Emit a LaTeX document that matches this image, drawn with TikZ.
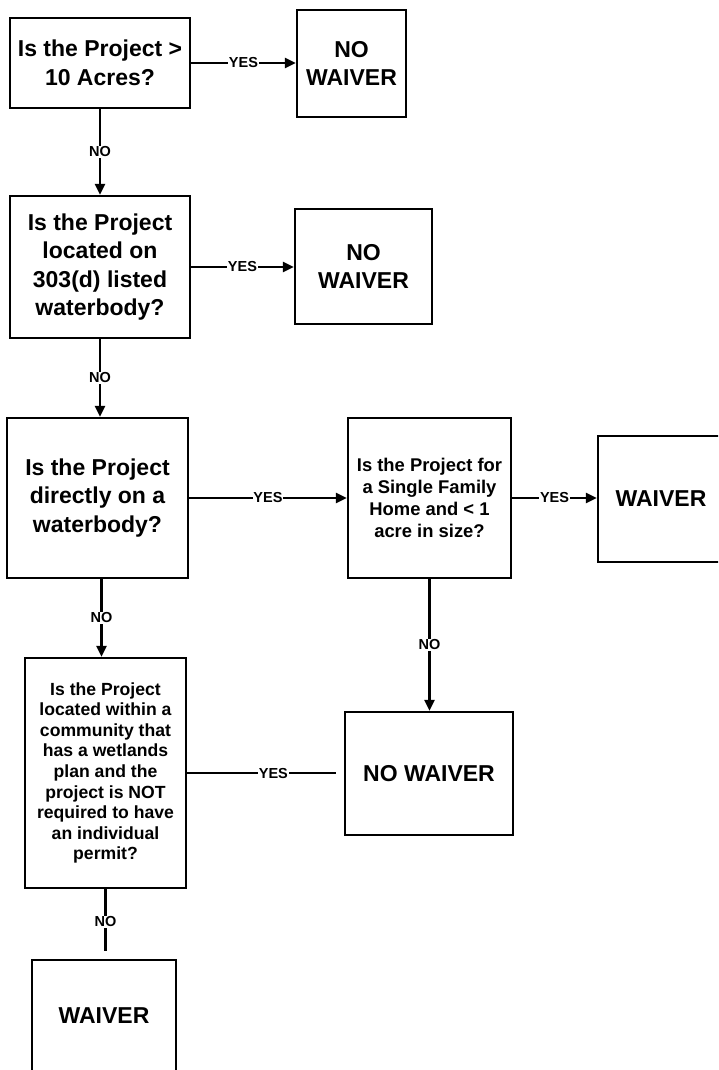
\documentclass[tikz,border=0pt]{standalone}
\usepackage{fontspec}
\setmainfont{Liberation Sans}
\usetikzlibrary{arrows.meta}
\tikzset{
  box/.style={draw, line width=2.2pt, inner sep=0pt, align=center, anchor=center},
  bigtxt/.style={font=\fontsize{23}{28.5}\selectfont\bfseries},
  midtxt/.style={font=\fontsize{18.4}{22}\selectfont\bfseries},
  smalltxt/.style={font=\fontsize{17.6}{20.6}\selectfont\bfseries},
  conn/.style={line width=2.2pt},
  arr/.style={conn, -{Triangle[length=11pt,width=10pt]}},
  lbl/.style={fill=white, inner sep=0.8pt, font=\fontsize{14.5}{15}\selectfont\bfseries}
}
\begin{document}
\begin{tikzpicture}[x=1pt,y=-1pt]
\useasboundingbox (0,0) rectangle (718,1070);
\clip (0,0) rectangle (718,1070);
\fill[white] (0,0) rectangle (718,1070);
% boxes
\node[box, bigtxt, minimum width=180pt, minimum height=90pt] (b1) at (100,63) {Is the Project >\\10 Acres?};
\node[box, bigtxt, minimum width=109pt, minimum height=107pt] (nw1) at (351.5,63.5) {NO\\WAIVER};
\node[box, bigtxt, minimum width=180pt, minimum height=142pt] (b2) at (100,267) {Is the Project\\located on\\303(d) listed\\waterbody?};
\node[box, bigtxt, minimum width=137pt, minimum height=115pt] (nw2) at (363.5,266.5) {NO\\WAIVER};
\node[box, bigtxt, minimum width=181pt, minimum height=160pt] (b3) at (97.5,498) {Is the Project\\directly on a\\waterbody?};
\node[box, midtxt, minimum width=163pt, minimum height=160pt] (b4) at (429.5,498) {Is the Project for\\a Single Family\\Home and < 1\\acre in size?};
\node[box, bigtxt, minimum width=126pt, minimum height=126pt] (w1) at (661,499) {WAIVER};
\node[box, smalltxt, minimum width=161pt, minimum height=230pt] (b5) at (105.5,773) {Is the Project\\located within a\\community that\\has a wetlands\\plan and the\\project is NOT\\required to have\\an individual\\permit?};
\node[box, bigtxt, minimum width=168pt, minimum height=123pt] (nw3) at (429,773.5) {NO WAIVER};
\node[box, bigtxt, minimum width=144pt, minimum height=112pt] (w2) at (104,1016) {WAIVER};
% connectors
\draw[arr] (b1.east) -- node[lbl]{YES} (b1.east -| nw1.west);
\draw[arr] (b1.south) -- node[lbl]{NO} (b1.south |- b2.north);
\draw[arr] (b2.east) -- node[lbl]{YES} (b2.east -| nw2.west);
\draw[arr] (b2.south) -- node[lbl]{NO} (b2.south |- b3.north);
\draw[arr] (b3.east) -- node[lbl]{YES} (b3.east -| b4.west);
\draw[arr] (b4.east) -- node[lbl]{YES} (b4.east -| w1.west);
\draw[arr] ([xshift=4pt]b3.south) -- node[lbl]{NO} ([xshift=4pt]b3.south |- b5.north);
\draw[arr] (b4.south) -- node[lbl]{NO} (b4.south |- nw3.north);
\draw[conn, shorten >=8pt] (b5.east) -- node[lbl, pos=0.55]{YES} (b5.east -| nw3.west);
\draw[conn, shorten >=8pt] (b5.south) -- node[lbl, pos=0.47]{NO} (b5.south |- w2.north);
\end{tikzpicture}
\end{document}
